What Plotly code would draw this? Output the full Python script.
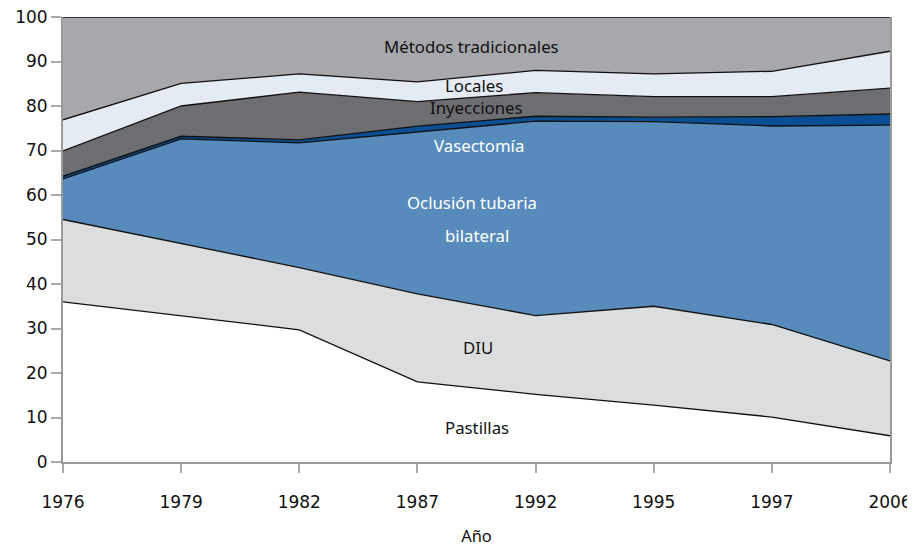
import plotly.graph_objects as go

years = ["1976", "1979", "1982", "1987", "1992", "1995", "1997", "2006"]

pastillas = [36.0, 32.9, 29.7, 18.0, 15.2, 12.8, 10.1, 5.9]
diu = [18.5, 16.2, 14.0, 19.8, 17.7, 22.2, 20.8, 16.8]
oclusion = [9.1, 23.5, 28.0, 36.4, 43.7, 41.5, 44.6, 53.0]
vasectomia = [0.6, 0.6, 0.7, 1.3, 1.1, 1.0, 2.1, 2.5]
inyecciones = [5.7, 6.8, 10.7, 5.5, 5.3, 4.6, 4.5, 5.8]
locales = [7.0, 5.1, 4.1, 4.4, 5.0, 5.1, 5.7, 8.3]
tradicionales = [23.1, 14.9, 12.8, 14.6, 12.0, 12.8, 12.2, 7.7]

series = [
    ("Pastillas", pastillas, "#FFFFFF"),
    ("DIU", diu, "#DCDDDF"),
    ("Oclusión tubaria bilateral", oclusion, "#578BBB"),
    ("Vasectomía", vasectomia, "#0A4E93"),
    ("Inyecciones", inyecciones, "#6D6E71"),
    ("Locales", locales, "#E5EBF2"),
    ("Métodos tradicionales", tradicionales, "#A7A8AB"),
]

fig = go.Figure()
for name, vals, col in series:
    fig.add_trace(go.Scatter(
        x=years, y=vals, name=name, mode="lines",
        stackgroup="one", fillcolor=col,
        line=dict(color="#111111", width=1.3),
        hoverinfo="x+y+name",
    ))

labels = [
    ("Métodos tradicionales", 3.46, 93.3, "#111111"),
    ("Locales", 3.48, 84.6, "#111111"),
    ("Inyecciones", 3.5, 79.6, "#111111"),
    ("Vasectomía", 3.52, 71.2, "#FFFFFF"),
    ("Oclusión tubaria", 3.46, 58.3, "#FFFFFF"),
    ("bilateral", 3.5, 50.9, "#FFFFFF"),
    ("DIU", 3.51, 25.7, "#111111"),
    ("Pastillas", 3.5, 7.8, "#111111"),
]
for txt, xi, yv, col in labels:
    fig.add_annotation(x=xi, y=yv, text=txt, showarrow=False,
                       font=dict(family="Noto Sans, Open Sans, sans-serif", size=16.8, color=col))

# page body has an 8px default margin; size the figure so the plot lands where the reference has it
fig.update_layout(
    width=907, height=539,
    margin=dict(l=55, r=25, t=9, b=85),
    paper_bgcolor="white", plot_bgcolor="white",
    showlegend=False,
    font=dict(family="DejaVu Sans, sans-serif", size=17, color="#111111"),
)
fig.update_xaxes(
    type="category", range=[0, 7], automargin=False,
    showgrid=False, zeroline=False,
    showline=True, linecolor="#9A9A9A", linewidth=2,
    ticks="outside", ticklen=9, tickcolor="#AAAAAA", tickwidth=1.5,
    tickfont=dict(size=17, family="DejaVu Sans, sans-serif", color="#111111"),
    title=dict(text="Año", font=dict(size=16.5, family="Noto Sans, sans-serif", color="#111111"), standoff=20),
    ticklabelstandoff=15, ticklabeloverflow="allow",
)
fig.update_yaxes(
    range=[0, 100], dtick=10, automargin=False,
    showgrid=False, zeroline=False,
    showline=True, linecolor="#9A9A9A", linewidth=2, mirror=True,
    ticks="outside", ticklen=10, tickcolor="#AAAAAA", tickwidth=1.5,
    tickfont=dict(size=17, family="DejaVu Sans, sans-serif", color="#111111"),
    ticklabeloverflow="allow",
)

fig.write_html("out.html")
